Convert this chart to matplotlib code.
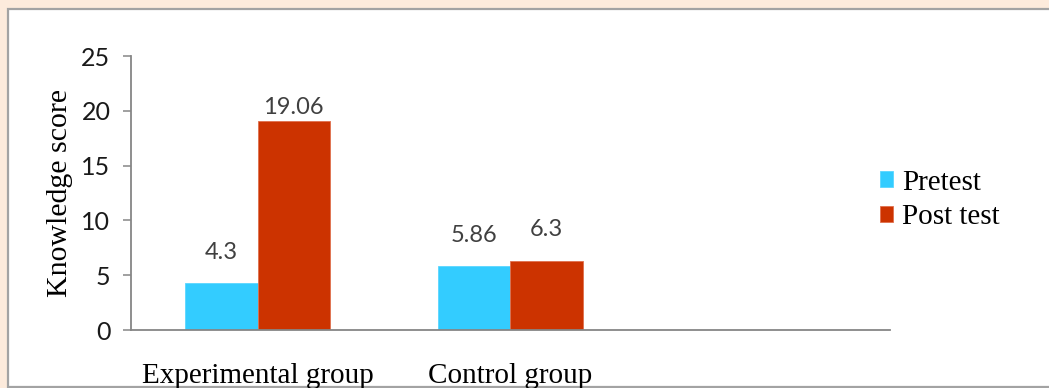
import matplotlib
matplotlib.use("Agg")
import matplotlib.pyplot as plt
from matplotlib.patches import Rectangle
import numpy as np

categories = ["Experimental group", "Control group", ""]
series_names = ["Pretest", "Post test"]
pretest = [4.3, 5.86]
posttest = [19.06, 6.3]
pretest_labels = ["4.3", "5.86"]
posttest_labels = ["19.06", "6.3"]
yticks = [0, 5, 10, 15, 20, 25]

# styling
colors = ["#33CCFF", "#CC3300"]
label_offsets_pt = [[22, 22], [10, 23]]  # [pretest..., posttest...] vertical offsets of data labels
W, H = 1049, 388
DPI = 100

fig = plt.figure(figsize=(W / DPI, H / DPI), dpi=DPI)
fig.patch.set_facecolor("#FDEBDC")
fig.patches.append(Rectangle((8 / W, 1.5 / H), 1.2, (386.5 - 9) / H, transform=fig.transFigure,
                             facecolor="white", edgecolor="#A3A3A3", linewidth=1.6, zorder=-5))

ax = fig.add_axes([131 / W, 58 / H, (890 - 131) / W, (330 - 56) / H])
ax.set_facecolor("none")
ax.set_zorder(2)

x = np.arange(len(categories))
bw = 0.2857
n = len(pretest)
b1 = ax.bar(x[:n] - bw / 2, pretest, bw, color=colors[0], edgecolor="#5AD6FF", linewidth=0.6, label=series_names[0], zorder=2)
b2 = ax.bar(x[:n] + bw / 2, posttest, bw, color=colors[1], edgecolor="#E0704D", linewidth=0.6, label=series_names[1], zorder=2)

sans = ["Lato", "DejaVu Sans"]
serif = ["Liberation Serif", "DejaVu Serif"]

for bars, labs, offs in ((b1, pretest_labels, label_offsets_pt[0]), (b2, posttest_labels, label_offsets_pt[1])):
    for rect, lab, off in zip(bars, labs, offs):
        ax.annotate(lab, (rect.get_x() + rect.get_width() / 2, rect.get_height()),
                    xytext=(0, off), textcoords="offset points", ha="center", va="center",
                    fontsize=17, color="#404040", family=sans)

ax.set_xlim(-0.5, len(categories) - 0.5)
ax.set_ylim(0, 25)
ax.set_yticks(yticks)
ax.set_yticklabels([str(t) for t in yticks], fontsize=18, family=sans, color="#1A1A1A")
ax.set_xticks(x)
ax.set_xticklabels(categories, fontsize=21, family=serif, color="black")
ax.tick_params(axis="x", length=0, pad=24)
ax.tick_params(axis="y", length=5.8, width=1.1, color="#868686", pad=9)

for s in ("top", "right"):
    ax.spines[s].set_visible(False)
for s in ("left", "bottom"):
    ax.spines[s].set_color("#868686")
    ax.spines[s].set_linewidth(1.3)

ax.set_ylabel("Knowledge score", fontsize=21.5, family=serif, labelpad=6)

fig.legend(handles=[b1, b2], labels=series_names, loc="center left",
           bbox_to_anchor=(880 / W, (H - 200) / H), frameon=False,
           prop={"family": serif, "size": 21}, handlelength=0.45, handleheight=0.45,
           handletextpad=0.3, labelspacing=0.3, borderpad=0, borderaxespad=0)

fig.savefig("out.png", dpi=DPI, facecolor=fig.get_facecolor())
